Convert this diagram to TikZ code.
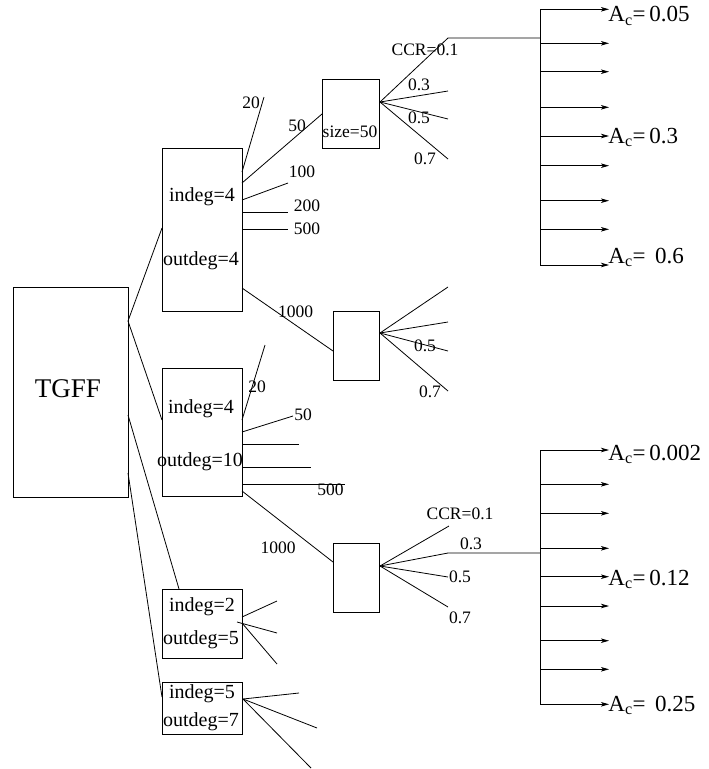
\documentclass[tikz,border=0pt]{standalone}
\usepackage{fontspec}
\setmainfont{Liberation Serif}
\usetikzlibrary{arrows.meta}
\begin{document}
\begin{tikzpicture}[x=1pt,y=-1pt,line width=0.8pt,
  box/.style={draw,line width=0.8pt,inner sep=0pt},
  lab/.style={inner sep=0pt,font=\fontsize{17.5}{19}\selectfont},
  btxt/.style={inner sep=0pt,font=\fontsize{20}{22}\selectfont},
  big/.style={inner sep=0pt,font=\fontsize{27}{30}\selectfont},
  actxt/.style={inner sep=0pt,anchor=base west,font=\fontsize{23}{25}\selectfont},
  arr/.style={-{Stealth[length=8pt,width=4.5pt,inset=2pt]}}]
\useasboundingbox (0,0) rectangle (709,769);

% boxes
\node[box,minimum width=115pt,minimum height=210pt] (tgff) at (70.5,392) {};
\node[big] (tgfft) at (68,389) {TGFF};
\node[box,minimum width=80pt,minimum height=163pt] (b1) at (202,229.5) {};
\node[btxt] (b1a) at (202,197) {indeg=4};
\node[btxt] (b1b) at (201,261) {outdeg=4};
\node[box,minimum width=80pt,minimum height=128pt] (b2) at (202,432) {};
\node[btxt] (b2a) at (201,409) {indeg=4};
\node[btxt] (b2b) at (200,462) {outdeg=10};
\node[box,minimum width=80pt,minimum height=69pt] (b3) at (202,623.5) {};
\node[btxt] (b3a) at (202,607) {indeg=2};
\node[btxt] (b3b) at (201,640) {outdeg=5};
\node[box,minimum width=80pt,minimum height=52pt] (b4) at (202,708) {};
\node[btxt] (b4a) at (202,694) {indeg=5};
\node[btxt] (b4b) at (201,722) {outdeg=7};
\node[box,minimum width=57pt,minimum height=69pt] (b5) at (350.5,113.5) {};
\node[lab] (b5t) at (350,132) {size=50};
\node[box,minimum width=46pt,minimum height=69pt] (b7) at (356,345.5) {};
\node[box,minimum width=46pt,minimum height=69pt] (b6) at (356,577.5) {};

% TGFF connectors
\coordinate (t0) at (128,321);
\coordinate (t1) at (128,415);
\coordinate (t2) at (128,473);
\coordinate (e1) at (162,228);
\coordinate (e2) at (162,420);
\coordinate (e3) at (179,589);
\coordinate (e4) at (162,697);
\draw (t0) -- (e1);
\draw (t0) -- (e2);
\draw (t1) -- (e3);
\draw (t2) -- (e4);

% box1 outputs
\coordinate (p1) at (242,172); \coordinate (q1) at (264,97);
\coordinate (p2) at (242,183); \coordinate (q2) at (322,114);
\coordinate (p3) at (242,200); \coordinate (q3) at (288,183);
\coordinate (p4) at (242,212); \coordinate (q4) at (288,212);
\coordinate (p5) at (242,229); \coordinate (q5) at (288,229);
\coordinate (p6) at (242,288); \coordinate (q6) at (333,351);
\draw (p1) -- (q1); \draw (p2) -- (q2); \draw (p3) -- (q3);
\draw (p4) -- (q4); \draw (p5) -- (q5); \draw (p6) -- (q6);
\node[lab] (l20a) at (251,103) {20};
\node[lab] (l50a) at (297,126) {50};
\node[lab] (l100a) at (302,172) {100};
\node[lab] (l200a) at (307,206) {200};
\node[lab] (l500a) at (307,229) {500};
\node[lab] (l1000a) at (295.5,312) {1000};

% size box fan
\coordinate (f5) at (380,102);
\coordinate (c51) at (448,38); \coordinate (j5) at (540,38);
\coordinate (c52) at (448,91);
\coordinate (c53) at (448,119);
\coordinate (c54) at (448,159);
\draw (f5) -- (c51) -- (j5);
\draw (f5) -- (c52); \draw (f5) -- (c53); \draw (f5) -- (c54);
\node[lab] (ccra) at (425,50) {CCR=0.1};
\node[lab] (l03a) at (419,85) {0.3};
\node[lab] (l05a) at (419,118) {0.5};
\node[lab] (l07a) at (425,159) {0.7};

% box7 fan
\coordinate (f7) at (380,333);
\coordinate (c71) at (448,287);
\coordinate (c72) at (448,322);
\coordinate (c73) at (448,351);
\coordinate (c74) at (448,391);
\draw (f7) -- (c71); \draw (f7) -- (c72); \draw (f7) -- (c73); \draw (f7) -- (c74);
\node[lab] (l05b) at (425,346) {0.5};
\node[lab] (l07b) at (430,392) {0.7};

% box2 outputs
\coordinate (r1) at (242,420); \coordinate (s1) at (265,345);
\coordinate (r2) at (242,432); \coordinate (s2) at (293,416);
\coordinate (r3) at (242,444); \coordinate (s3) at (299,444);
\coordinate (r4) at (242,467); \coordinate (s4) at (311,467);
\coordinate (r5) at (242,484); \coordinate (s5) at (345,484);
\coordinate (r6) at (242,491); \coordinate (s6) at (333,562);
\draw (r1) -- (s1); \draw (r2) -- (s2); \draw (r3) -- (s3);
\draw (r4) -- (s4); \draw (r5) -- (s5); \draw (r6) -- (s6);
\node[lab] (l20b) at (257,387) {20};
\node[lab] (l50b) at (303,415) {50};
\node[lab] (l500b) at (330.5,490) {500};
\node[lab] (l1000b) at (278,548) {1000};

% box6 fan
\coordinate (f6) at (380,566);
\coordinate (c61) at (449,526);
\coordinate (c62) at (448,553); \coordinate (j6) at (540,553);
\coordinate (c63) at (448,577);
\coordinate (c64) at (448,607);
\draw (f6) -- (c61); \draw (f6) -- (c62) -- (j6);
\draw (f6) -- (c63); \draw (f6) -- (c64);
\node[lab] (ccrb) at (460,514) {CCR=0.1};
\node[lab] (l03b) at (471,543.5) {0.3};
\node[lab] (l05c) at (460,577) {0.5};
\node[lab] (l07c) at (460,617.5) {0.7};

% box3 and box4 fans
\coordinate (g3) at (242,617); \coordinate (h31) at (277,601);
\coordinate (g3b) at (237,622); \coordinate (h32) at (277,633);
\coordinate (g3c) at (242,623); \coordinate (h33) at (277,664);
\draw (g3) -- (h31); \draw (g3b) -- (h32); \draw (g3c) -- (h33);
\coordinate (g4) at (243,699);
\coordinate (h41) at (299,693); \coordinate (h42) at (317,728); \coordinate (h43) at (311,768);
\draw (g4) -- (h41); \draw (g4) -- (h42); \draw (g4) -- (h43);

% top A_c bus
\foreach \y [count=\i] in {9.3,43.3,71.7,107.3,136,165.7,200.7,229.3,265} {
  \coordinate (ta\i) at (540,\y);
  \coordinate (tt\i) at (609,\y);
  \draw[arr] (ta\i) -- (tt\i);
}
\draw (ta1) -- (ta9);
\node[actxt] (ac1) at (608,21.5) {A\textsubscript{c}=\,0.05};
\node[actxt] (ac2) at (608,143) {A\textsubscript{c}=\,0.3};
\node[actxt] (ac3) at (608,263) {A\textsubscript{c}=\ \,0.6};

% bottom A_c bus
\foreach \y [count=\i] in {450,484.3,513.3,548.3,576.7,606,640.7,669.3,704.3} {
  \coordinate (ba\i) at (540,\y);
  \coordinate (bt\i) at (609,\y);
  \draw[arr] (ba\i) -- (bt\i);
}
\draw (ba1) -- (ba9);
\node[actxt] (ac4) at (608,460) {A\textsubscript{c}=\,0.002};
\node[actxt] (ac5) at (608,585) {A\textsubscript{c}=\,0.12};
\node[actxt] (ac6) at (608,711) {A\textsubscript{c}=\ \,0.25};
\end{tikzpicture}
\end{document}
